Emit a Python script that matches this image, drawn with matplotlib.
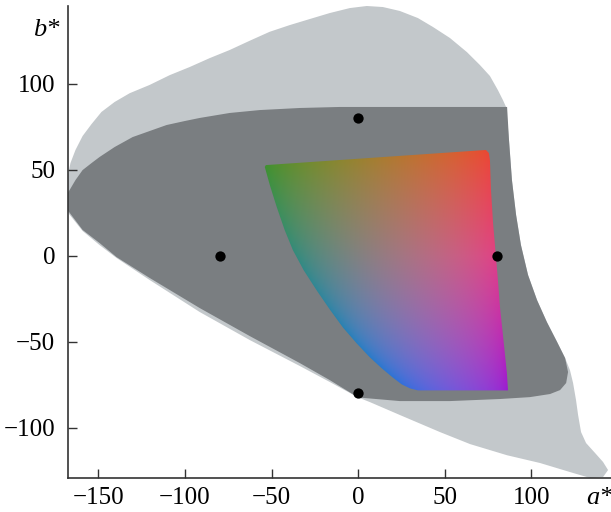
import numpy as np
import matplotlib
matplotlib.use("Agg")
from matplotlib import pyplot as plt
from matplotlib.patches import Polygon

plt.rcParams['font.family'] = ['Liberation Serif', 'DejaVu Serif']

# outer (light gray) region boundary, a* and b*
outer_a = [-171.3, -167.8, -166.1, -163.2, -159.1, -153.9, -148.2, -140.6, -131.9, -120.4, -108.8,
           -97.3, -85.7, -74.2, -62.6, -51.1, -39.5, -28.0, -16.4, -4.8, 5.0, 14.3, 24.1, 34.5,
           43.2, 53.0, 62.8, 70.3, 76.1, 80.7, 83.6, 85.4, 87.1, 88.8, 91.2, 94.0, 98.1, 103.3,
           109.0, 114.9, 119.5, 122.3, 124.1, 125.8, 127.0, 128.7, 131.6, 136.8, 141.4, 144.3,
           141.4, 134.0, 124.1, 105.0, 86.0, 64.6, 47.2, 24.1, 6.8, 0.0, -16.4, -33.7, -62.6,
           -91.5, -120.4, -139.5, -149.3, -159.1, -167.8, -171.3]
outer_b = [35.3, 45.8, 53.9, 61.5, 69.6, 76.6, 83.6, 89.4, 94.5, 99.3, 105.0,
           109.7, 114.9, 119.6, 125.0, 130.2, 134.1, 137.6, 141.1, 144.0, 145.2, 144.6, 142.3, 138.2,
           133.0, 126.6, 118.4, 110.9, 104.5, 96.3, 90.5, 86.5, 67.3, 44.0, 23.7, 6.2, -11.2, -25.8,
           -38.6, -50.2, -59.5, -66.5, -74.0, -83.9, -92.6, -102.5, -108.9, -114.7, -119.9, -124.6,
           -128.7, -129.2, -126.3, -120.5, -116.0, -109.5, -102.5, -92.6, -85.1, -82.4, -73.4, -64.1, -49.0,
           -32.7, -14.1, -1.3, 6.2, 14.4, 25.4, 28.3]

# middle (dark gray) region boundary
mid_a = [-171.3, -166.6, -163.2, -159.1, -153.9, -149.3, -140.6, -130.2, -120.4, -110.6, -100.2,
         -91.5, -74.2, -56.8, -33.7, -10.6, 86.0, 87.1, 88.8, 91.2, 94.0, 98.1, 103.3, 109.0,
         114.9, 119.5, 121.2, 120.1, 116.6, 110.8, 99.2, 81.9, 53.0, 24.1, 0.0, -16.4, -33.7,
         -62.6, -91.5, -120.4, -139.5, -149.3, -159.1, -167.8, -171.3]
mid_b = [31.0, 38.2, 44.0, 49.8, 53.9, 57.4, 63.2, 69.0, 72.5, 76.0, 78.3,
         80.1, 83.0, 84.7, 85.9, 86.5, 86.5, 67.3, 44.0, 23.7, 6.2, -11.2, -25.8, -38.6,
         -50.2, -59.5, -67.6, -74.0, -78.1, -80.4, -82.2, -83.3, -84.5, -84.5, -82.4, -72.3, -62.4,
         -46.7, -30.4, -12.9, -0.8, 7.4, 15.0, 26.6, 28.9]

# inner colour gamut boundary
gamut_a = [-53.9, -51.0, -47.0, -42.4, -37.7, -31.4, -23.9, -16.4, -8.8, -0.8, 6.8, 13.7, 20.0,
           25.2, 29.9, 34.5, 86.5, 85.9, 84.2, 81.9, 80.7, 79.6, 77.9, 76.7, 76.1, 75.5, 73.8, -53.3]
gamut_b = [51.6, 41.1, 28.3, 14.9, 3.3, -8.5, -20.2, -31.2, -41.7, -51.0, -59.1, -65.5, -70.8,
           -74.8, -77.1, -78.3, -78.3, -68.4, -51.9, -29.9, -14.1, -0.8, 19.0, 38.2, 55.6, 59.7, 61.5, 52.7]

# reference points
pts_a = [0, -80, 80, 0]
pts_b = [80, 0, 0, -80]

xticks = [-150, -100, -50, 0, 50, 100]
yticks = [-100, -50, 0, 50, 100]


def lab_to_linear(L, a, b):
    fy = (L + 16) / 116
    fx = fy + a / 500
    fz = fy - b / 200

    def finv(t):
        return np.where(t > 6 / 29, t ** 3, 3 * (6 / 29) ** 2 * (t - 4 / 29))

    X = 0.95047 * finv(fx)
    Y = finv(fy) * np.ones_like(a)
    Z = 1.08883 * finv(fz)
    r = 3.2406 * X - 1.5372 * Y - 0.4986 * Z
    g = -0.9689 * X + 1.8758 * Y + 0.0415 * Z
    bl = 0.0557 * X - 0.2040 * Y + 1.0570 * Z
    return np.stack([r, g, bl], axis=-1)


def gamut_colors(L, a, b):
    # reduce chroma until the colour fits into sRGB
    out = np.zeros(a.shape + (3,))
    done = np.zeros(a.shape, dtype=bool)
    for k in np.linspace(1, 0, 41):
        lin = lab_to_linear(L, a * k, b * k)
        ok = np.all((lin >= 0) & (lin <= 1), axis=-1) & ~done
        out[ok] = lin[ok]
        done |= ok
    out = np.clip(out, 0, 1)
    return np.where(out > 0.0031308, 1.055 * out ** (1 / 2.4) - 0.055, 12.92 * out)


fig = plt.figure(figsize=(6.11, 5.12), dpi=100)
ax = fig.add_axes([67.7 / 611, 33.7 / 512, (611 - 67.7) / 611, (478.3 - 6) / 512])

ax.add_patch(Polygon(np.column_stack([outer_a, outer_b]), closed=True, facecolor='#c3c8cb', edgecolor='none', zorder=1))
ax.add_patch(Polygon(np.column_stack([mid_a, mid_b]), closed=True, facecolor='#7a7e81', edgecolor='none', zorder=2))

ga, gb = np.meshgrid(np.linspace(-60, 90, 300), np.linspace(-82, 66, 300))
lum = 54.0 + 0.04 * gb - 0.05 * np.clip(ga, 0, None) * np.clip(-gb, 0, None) / 40
img = gamut_colors(lum, 0.9 * ga, 0.9 * gb)
# soften the corner colours a little
img = 0.88 * img + 0.12 * img.mean(axis=-1, keepdims=True)
gamut_patch = Polygon(np.column_stack([gamut_a, gamut_b]), closed=True, facecolor='none', edgecolor='none', zorder=3)
ax.add_patch(gamut_patch)
im = ax.imshow(img, extent=[-60, 90, -82, 66], origin='lower', interpolation='bilinear', zorder=3, aspect='auto')
im.set_clip_path(gamut_patch)

ax.scatter(pts_a, pts_b, s=55, color='black', zorder=5, linewidths=0)

ax.set_xlim(-167.7, 146)
ax.set_ylim(-129.4, 145.2)
ax.set_xticks(xticks)
ax.set_yticks(yticks)
ax.set_xticklabels([str(t).replace('-', '\u2212') for t in xticks])
ax.set_yticklabels([str(t).replace('-', '\u2212') for t in yticks])
ax.tick_params(direction='in', length=6.5, width=1.0, labelsize=18, color='#333333', pad=6)
ax.tick_params(axis='y', pad=9)
for s in ['top', 'right']:
    ax.spines[s].set_visible(False)
for s in ['left', 'bottom']:
    ax.spines[s].set_linewidth(1.2)
    ax.spines[s].set_color('#333333')

fig.text(46 / 611, 1 - 30 / 512, 'b*', fontsize=19, style='italic', ha='center', va='center')
fig.text(599 / 611, 1 - 498 / 512, 'a*', fontsize=19, style='italic', ha='center', va='center')

fig.savefig('out.png', dpi=100)
